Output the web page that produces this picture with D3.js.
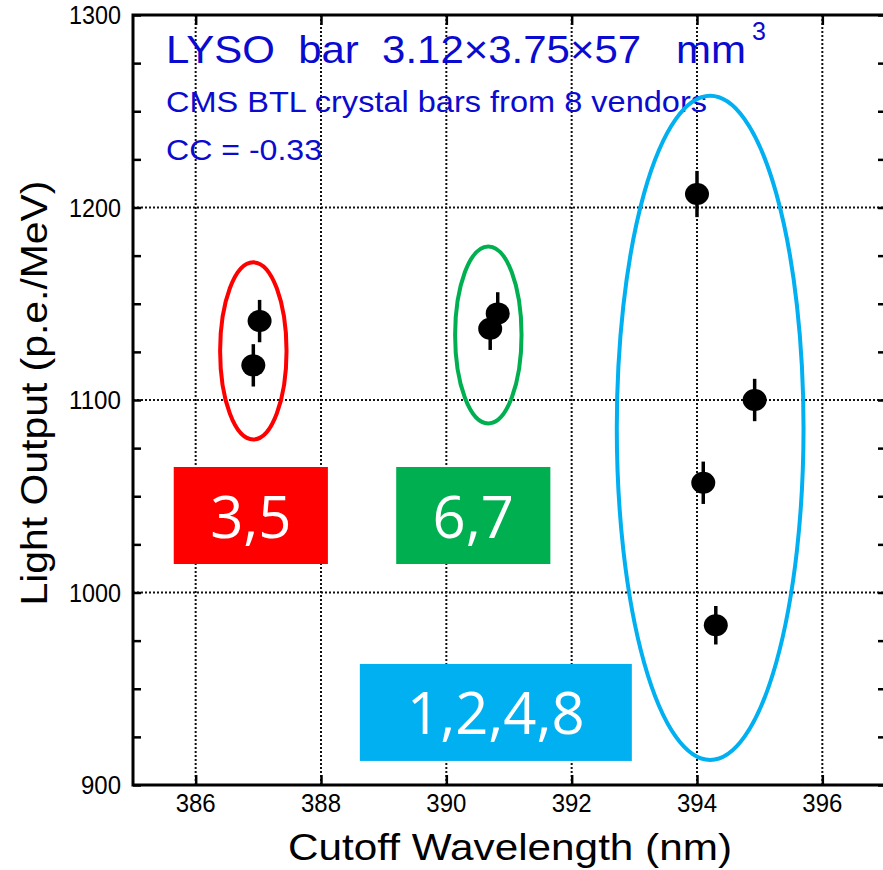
<!DOCTYPE html>
<html>
<head>
<meta charset="utf-8">
<script src="https://cdn.jsdelivr.net/npm/d3@7"></script>
<style>
  body { margin: 0; background: #fff; }
  svg { display: block; }
</style>
</head>
<body>
<div id="chart"></div>
<script>
// Measured points (cutoff wavelength nm, light output p.e./MeV, error)
const wavelength = [386.92, 387.02, 390.70, 390.82, 394.00, 394.92, 394.10, 394.30];
const lightOutput = [1118, 1141, 1137, 1145, 1207, 1100, 1057, 983];
const lightError = [11, 11, 11, 11, 12, 11, 11, 10];

const xTicks = [386, 388, 390, 392, 394, 396];
const yTicks = [900, 1000, 1100, 1200, 1300];

// Vendor groups: ellipse (data units) and label box (data units)
const groupNames = ['3,5', '6,7', '1,2,4,8'];
const groupColors = ['#ff0000', '#00b050', '#00b0f0'];
const ellipseCenter = [[386.92, 1125.5], [390.67, 1133.8], [394.21, 1085.5]];
const ellipseRadius = [[0.53, 46], [0.53, 46], [1.49, 172.5]];
const boxX = [[385.65, 388.11], [389.20, 391.66], [388.62, 392.96]];
const boxY = [[1065.2, 1014.8], [1065.2, 1014.8], [962.9, 912.5]];

const width = 883, height = 870;
const margin = { top: 15, right: -2, bottom: 85, left: 133 };
const nb = '\u00a0';
const font = "'Liberation Sans', Arial, sans-serif";

const svg = d3.select('#chart').append('svg')
    .attr('width', width)
    .attr('height', height);

const x = d3.scaleLinear().domain([385, 397]).range([margin.left, width - margin.right]);
const y = d3.scaleLinear().domain([900, 1300]).range([height - margin.bottom, margin.top]);

const x0 = x.range()[0], x1 = x.range()[1];
const y0 = y.range()[0], y1 = y.range()[1];

// Dotted grid
const grid = svg.append('g')
    .attr('stroke', '#111')
    .attr('stroke-width', 2)
    .attr('stroke-dasharray', '2,2');
grid.selectAll('line.gx').data(xTicks).enter().append('line')
    .attr('x1', d => x(d)).attr('x2', d => x(d))
    .attr('y1', y1).attr('y2', y0);
grid.selectAll('line.gy').data([1000, 1100, 1200]).enter().append('line')
    .attr('x1', x0).attr('x2', x1)
    .attr('y1', d => y(d)).attr('y2', d => y(d));

// Axes (inward ticks)
const minorY = d3.range(900, 1301, 25);
svg.append('g')
    .attr('transform', `translate(${x0},0)`)
    .call(d3.axisRight(y).tickValues(minorY).tickSize(8).tickFormat(''))
    .call(g => g.selectAll('line').attr('stroke-width', 2.5))
    .call(g => g.select('.domain').remove());
svg.append('g')
    .attr('transform', `translate(${x1},0)`)
    .call(d3.axisLeft(y).tickValues(minorY).tickSize(7).tickFormat(''))
    .call(g => g.selectAll('line').attr('stroke-width', 2.5))
    .call(g => g.select('.domain').remove());
svg.append('g')
    .attr('transform', `translate(0,${y0})`)
    .call(d3.axisTop(x).tickValues(xTicks).tickSize(10).tickFormat(''))
    .call(g => g.selectAll('line').attr('stroke-width', 2.5))
    .call(g => g.select('.domain').remove());
svg.append('g')
    .attr('transform', `translate(0,${y1})`)
    .call(d3.axisBottom(x).tickValues(xTicks).tickSize(10).tickFormat(''))
    .call(g => g.selectAll('line').attr('stroke-width', 2.5))
    .call(g => g.select('.domain').remove());

// Frame lines
svg.append('path')
    .attr('d', `M${x1},${y1}H${x0}V${y0}H${x1}`)
    .attr('fill', 'none')
    .attr('stroke', '#000')
    .attr('stroke-width', 3);

// Tick labels
svg.append('g').selectAll('text').data(yTicks).enter().append('text')
    .attr('x', x0 - 12)
    .attr('y', d => y(d))
    .attr('dy', '0.36em')
    .attr('text-anchor', 'end')
    .attr('font-family', font)
    .attr('font-size', 25)
    .attr('textLength', d => d < 1000 ? 40 : 52)
    .attr('lengthAdjust', 'spacingAndGlyphs')
    .text(d => d);
svg.append('g').selectAll('text').data(xTicks).enter().append('text')
    .attr('x', d => x(d))
    .attr('y', y0 + 27)
    .attr('text-anchor', 'middle')
    .attr('font-family', font)
    .attr('font-size', 25)
    .attr('textLength', 40).attr('lengthAdjust', 'spacingAndGlyphs')
    .text(d => d);

// Axis titles
svg.append('text')
    .attr('x', 510).attr('y', 860)
    .attr('text-anchor', 'middle')
    .attr('font-family', font)
    .attr('font-size', 36)
    .attr('textLength', 444).attr('lengthAdjust', 'spacingAndGlyphs')
    .text('Cutoff Wavelength (nm)');
svg.append('text')
    .attr('transform', 'translate(47,393) rotate(-90)')
    .attr('text-anchor', 'middle')
    .attr('font-family', font)
    .attr('font-size', 37)
    .attr('textLength', 425).attr('lengthAdjust', 'spacingAndGlyphs')
    .text('Light Output (p.e./MeV)');

// Plot annotations
const titleColor = '#0a0ad0';
const head = svg.append('g')
    .attr('fill', titleColor)
    .attr('font-family', font);
head.append('text')
    .attr('x', 166).attr('y', 63)
    .attr('font-size', 39)
    .attr('textLength', 580).attr('lengthAdjust', 'spacingAndGlyphs')
    .text(`LYSO${nb}${nb}bar${nb}${nb}3.12\u00d73.75\u00d757${nb}${nb}${nb}mm`);
head.append('text')
    .attr('x', 752).attr('y', 40)
    .attr('font-size', 25)
    .text('3');
head.append('text')
    .attr('x', 166).attr('y', 112)
    .attr('font-size', 29)
    .attr('textLength', 541).attr('lengthAdjust', 'spacingAndGlyphs')
    .text('CMS BTL crystal bars from 8 vendors');
head.append('text')
    .attr('x', 166).attr('y', 160)
    .attr('font-size', 29)
    .attr('textLength', 156).attr('lengthAdjust', 'spacingAndGlyphs')
    .text('CC = -0.33');

// Error bars and points
const pts = wavelength.map((w, i) => ({ w, v: lightOutput[i], e: lightError[i] }));
svg.append('g').selectAll('line').data(pts).enter().append('line')
    .attr('x1', d => x(d.w)).attr('x2', d => x(d.w))
    .attr('y1', d => y(d.v + d.e)).attr('y2', d => y(d.v - d.e))
    .attr('stroke', '#000')
    .attr('stroke-width', 3.5);
svg.append('g').selectAll('ellipse').data(pts).enter().append('ellipse')
    .attr('cx', d => x(d.w)).attr('cy', d => y(d.v))
    .attr('rx', 12).attr('ry', 11)
    .attr('fill', '#000');

// Group ellipses
svg.append('g').selectAll('ellipse').data(groupNames).enter().append('ellipse')
    .attr('cx', (d, i) => x(ellipseCenter[i][0]))
    .attr('cy', (d, i) => y(ellipseCenter[i][1]))
    .attr('rx', (d, i) => x(ellipseCenter[i][0] + ellipseRadius[i][0]) - x(ellipseCenter[i][0]))
    .attr('ry', (d, i) => y(ellipseCenter[i][1] - ellipseRadius[i][1]) - y(ellipseCenter[i][1]))
    .attr('fill', 'none')
    .attr('stroke', (d, i) => groupColors[i])
    .attr('stroke-width', 4);

// Group label boxes
const boxes = svg.append('g').selectAll('g').data(groupNames).enter().append('g');
boxes.append('rect')
    .attr('x', (d, i) => x(boxX[i][0]))
    .attr('y', (d, i) => y(boxY[i][0]))
    .attr('width', (d, i) => x(boxX[i][1]) - x(boxX[i][0]))
    .attr('height', (d, i) => y(boxY[i][1]) - y(boxY[i][0]))
    .attr('fill', (d, i) => groupColors[i]);
boxes.append('text')
    .attr('x', (d, i) => (x(boxX[i][0]) + x(boxX[i][1])) / 2)
    .attr('y', (d, i) => (y(boxY[i][0]) + y(boxY[i][1])) / 2 + 22)
    .attr('text-anchor', 'middle')
    .attr('font-family', "'Open Sans', 'Noto Sans', sans-serif")
    .attr('font-size', 58)
    .attr('fill', '#fff')
    .text(d => d);
</script>
</body>
</html>
